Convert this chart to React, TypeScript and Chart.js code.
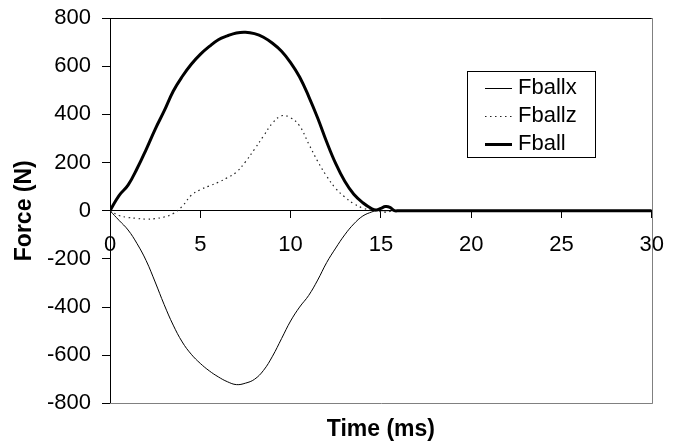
import React, { useEffect, useRef } from "react";
import { Chart, registerables } from "chart.js";

Chart.register(...registerables);

const time = [0, 0.5, 1, 1.5, 2, 2.5, 3, 3.5, 4, 4.5, 5, 5.5, 6, 6.5, 7, 7.5, 8, 8.5, 9, 9.5, 10, 10.5, 11, 11.5, 12, 12.5, 13, 13.5, 14, 14.5, 14.75, 15, 15.25, 15.5, 15.75, 16, 30];
const fballx = [0, -40, -80, -137, -207, -296, -390, -475, -545, -596, -634, -665, -690, -710, -722, -716, -700, -663, -604, -531, -458, -400, -352, -288, -215, -155, -100, -55, -22, -5, 0, 0, 0, 0, 0, 0, 0];
const fballz = [0, -20, -28, -32, -35, -33, -26, -12, 18, 64, 87, 103, 118, 137, 160, 203, 255, 310, 364, 394, 386, 352, 278, 205, 143, 92, 57, 29, 11, 2, 0, -4, -6, -3, 0, 0, 0];
const fball = [0, 63, 106, 175, 254, 338, 414, 496, 557, 608, 649, 682, 710, 726, 738, 741, 735, 720, 695, 662, 615, 555, 475, 385, 285, 195, 122, 68, 33, 8, 3, 10, 17, 14, 0, 0, 0];
const seriesLabels = ["Fballx", "Fballz", "Fball"];
const xTitle = "Time (ms)";
const yTitle = "Force (N)";

const FONT = "'Liberation Sans', Arial, Helvetica, sans-serif";

const pts = (vals: number[]) => vals.map((v, i) => ({ x: time[i], y: v }));

const framePlugin = {
  id: "frame",
  beforeDatasetsDraw(chart: any) {
    const { ctx, chartArea } = chart;
    const { left, right, top, bottom } = chartArea;
    ctx.save();
    ctx.lineWidth = 1;
    ctx.strokeStyle = "#000";
    ctx.beginPath();
    ctx.moveTo(left, Math.round(top) + 0.5);
    ctx.lineTo(right, Math.round(top) + 0.5);
    ctx.stroke();
    ctx.strokeStyle = "#808080";
    ctx.beginPath();
    ctx.moveTo(Math.round(right) + 0.5, top);
    ctx.lineTo(Math.round(right) + 0.5, bottom);
    ctx.moveTo(left, Math.round(bottom) + 0.5);
    ctx.lineTo(right + 1, Math.round(bottom) + 0.5);
    ctx.stroke();
    ctx.restore();
  },
};

const legendPlugin = {
  id: "boxLegend",
  afterDraw(chart: any) {
    const { ctx } = chart;
    const bx = 467.5, by = 71.5, bw = 128, bh = 86;
    ctx.save();
    ctx.fillStyle = "#fff";
    ctx.fillRect(bx, by, bw, bh);
    ctx.strokeStyle = "#000";
    ctx.lineWidth = 1;
    ctx.strokeRect(bx, by, bw, bh);
    const rows = [88, 116, 144];
    const order = [0, 1, 2];
    order.forEach((di, r) => {
      const ds = chart.data.datasets[di];
      const y = rows[r];
      ctx.save();
      ctx.strokeStyle = ds.borderColor;
      ctx.lineWidth = ds.borderWidth;
      ctx.setLineDash(ds.borderDash || []);
      ctx.beginPath();
      ctx.moveTo(485, y + 0.5);
      ctx.lineTo(512, y + 0.5);
      ctx.stroke();
      ctx.restore();
      ctx.fillStyle = "#000";
      ctx.font = `22px ${FONT}`;
      ctx.textAlign = "left";
      ctx.textBaseline = "middle";
      ctx.fillText(ds.label, 518, y);
    });
    ctx.restore();
  },
};

export default function App() {
  const ref = useRef<HTMLCanvasElement | null>(null);
  useEffect(() => {
    if (!ref.current) return;
    Chart.defaults.font.family = FONT;
    Chart.defaults.color = "#000";
    const chart = new Chart(ref.current, {
      type: "line",
      data: {
        datasets: [
          {
            label: seriesLabels[0],
            data: pts(fballx),
            borderColor: "#000",
            borderWidth: 1,
            pointRadius: 0,
            tension: 0.4,
            fill: false,
            order: 2,
          },
          {
            label: seriesLabels[1],
            data: pts(fballz),
            borderColor: "#222",
            borderWidth: 1.2,
            borderDash: [1.5, 3.5],
            pointRadius: 0,
            tension: 0.4,
            fill: false,
            order: 1,
          },
          {
            label: seriesLabels[2],
            data: pts(fball),
            borderColor: "#000",
            borderWidth: 3,
            pointRadius: 0,
            tension: 0.4,
            fill: false,
            order: 0,
          },
        ],
      },
      options: {
        responsive: false,
        animation: false,
        layout: { padding: { top: 18, right: 25, left: 0, bottom: 0 } },
        plugins: {
          legend: { display: false },
          tooltip: { enabled: false },
          title: {
            display: true,
            position: "bottom",
            fullSize: false,
            text: xTitle,
            color: "#000",
            font: { family: FONT, size: 23, weight: "bold" },
            padding: { top: 12, bottom: 0 },
          },
        },
        scales: {
          x: {
            type: "linear",
            position: { y: 0 },
            min: 0,
            max: 30,
            ticks: {
              stepSize: 5,
              color: "#000",
              font: { family: FONT, size: 22 },
              padding: 14,
              maxRotation: 0,
            },
            grid: { drawOnChartArea: false, tickLength: 7, color: "#000" },
            border: { color: "#000", width: 1 },
          },
          y: {
            type: "linear",
            min: -800,
            max: 800,
            ticks: {
              stepSize: 200,
              color: "#000",
              font: { family: FONT, size: 22 },
              padding: 11,
            },
            grid: { drawOnChartArea: false, tickLength: 8, color: "#000" },
            border: { color: "#000", width: 1 },
            title: {
              display: true,
              text: yTitle,
              color: "#000",
              font: { family: FONT, size: 23, weight: "bold" },
              padding: { top: 11, bottom: 0 },
            },
            afterFit: (s: any) => {
              s.width = 110;
              s.paddingTop = 0;
              s.paddingBottom = 0;
            },
          },
        },
      },
      plugins: [framePlugin, legendPlugin],
    } as any);
    return () => chart.destroy();
  }, []);
  return (
    <div style={{ position: "absolute", left: 0, top: 0, width: 678, height: 443, background: "#fff" }}>
      <canvas ref={ref} width={678} height={443} />
    </div>
  );
}
